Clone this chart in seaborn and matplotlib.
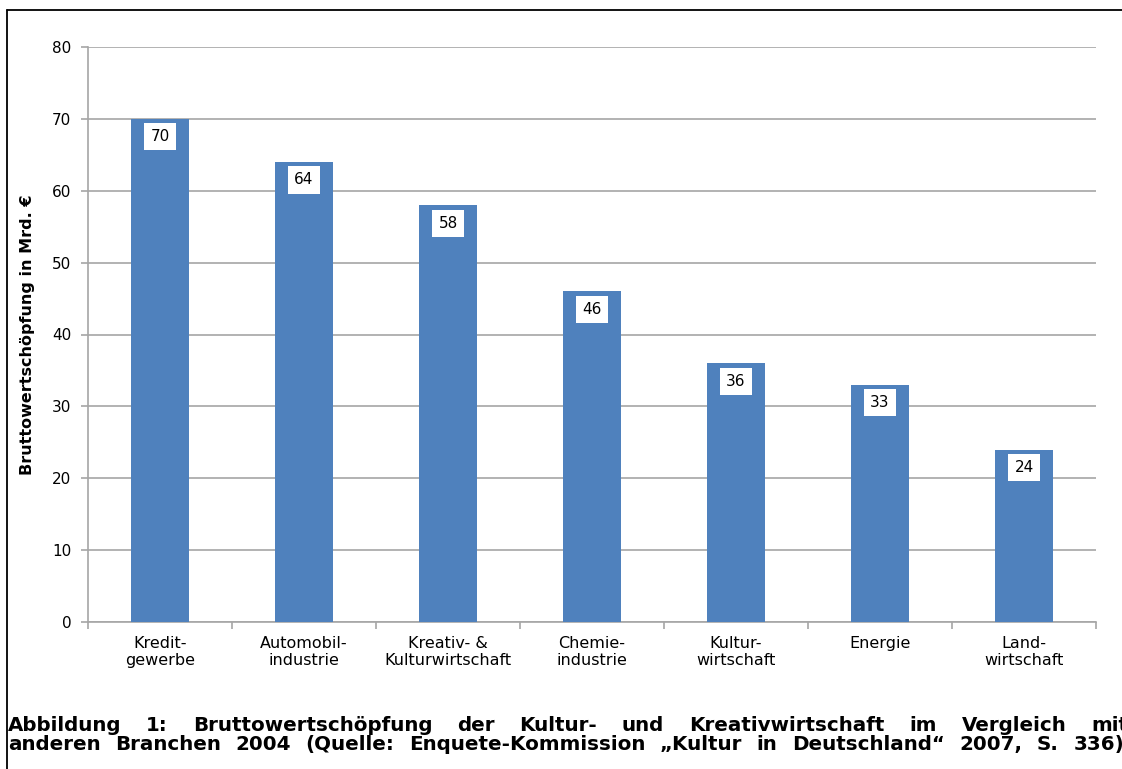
import matplotlib
matplotlib.use("Agg")
import matplotlib.pyplot as plt
from matplotlib.lines import Line2D
import seaborn as sns
import pandas as pd

categories = ["Kredit-\ngewerbe", "Automobil-\nindustrie", "Kreativ- &\nKulturwirtschaft",
              "Chemie-\nindustrie", "Kultur-\nwirtschaft", "Energie", "Land-\nwirtschaft"]
values = [70, 64, 58, 46, 36, 33, 24]
y_ticks = [0, 10, 20, 30, 40, 50, 60, 70, 80]
y_label = "Bruttowertschöpfung in Mrd. €"
caption_line1 = "Abbildung 1: Bruttowertschöpfung der Kultur- und Kreativwirtschaft im Vergleich mit"
caption_line2 = "anderen Branchen 2004 (Quelle: Enquete-Kommission „Kultur in Deutschland“ 2007, S. 336)"

sns.set_theme(style="white")
plt.rcParams["font.family"] = ["DejaVu Sans"]

W, H = 1122, 769
fig = plt.figure(figsize=(W / 100, H / 100), dpi=100)
ax = fig.add_axes([88 / W, 1 - 622 / H, (1096 - 88) / W, (622 - 47) / H])

df = pd.DataFrame({"Branche": categories, "Wert": values})
sns.barplot(data=df, x="Branche", y="Wert", color="#4f81bd", saturation=1,
            width=0.4, linewidth=0, ax=ax, zorder=3)

ax.set_ylim(0, 80)
ax.set_xlim(-0.5, len(categories) - 0.5)
ax.set_yticks(y_ticks)
ax.yaxis.grid(True, color="#a6a6a6", linewidth=1.2, zorder=0)
ax.set_axisbelow(True)

for side in ["top", "right"]:
    ax.spines[side].set_visible(False)
for side in ["left", "bottom"]:
    ax.spines[side].set_color("#a6a6a6")
    ax.spines[side].set_linewidth(1.2)

ax.tick_params(axis="y", which="major", length=5, width=1.2, color="#a6a6a6",
               left=True, labelsize=11, pad=7, labelcolor="black")
ax.set_xticks(range(len(categories)))
ax.set_xticks([i - 0.5 for i in range(len(categories) + 1)], minor=True)
ax.tick_params(axis="x", which="major", length=0, labelsize=11.5, pad=10,
               labelcolor="black")
ax.tick_params(axis="x", which="minor", length=5, width=1.2, color="#a6a6a6",
               bottom=True)
for lbl in ax.get_xticklabels():
    lbl.set_multialignment("center")
    lbl.set_linespacing(1.15)

ax.set_xlabel("")
ax.set_ylabel(y_label, fontsize=11.5, fontweight="bold", color="black", labelpad=12)

# value labels in white boxes just below each bar top
for i, v in enumerate(values):
    ax.annotate(str(v), xy=(i, v), xytext=(0, -18), textcoords="offset pixels",
                ha="center", va="center", fontsize=11, color="black", zorder=5,
                bbox=dict(boxstyle="square,pad=0.4", facecolor="white",
                          edgecolor="none"))

# frame lines around the figure block
fig.add_artist(Line2D([7 / W, 1], [1 - 10 / H, 1 - 10 / H], color="black",
                      linewidth=1.3, transform=fig.transFigure))
fig.add_artist(Line2D([7 / W, 7 / W], [0, 1 - 10 / H], color="black",
                      linewidth=1.3, transform=fig.transFigure))

# caption: both lines justified word by word to a common width
cap_kw = dict(fontsize=14.3, fontweight="bold", color="black", va="baseline",
              transform=fig.transFigure)
fig.canvas.draw()
renderer = fig.canvas.get_renderer()


def justified(line, left, right, baseline):
    words = line.split(" ")
    tmp = [fig.text(0, 0, w, **cap_kw) for w in words]
    widths = [t.get_window_extent(renderer).width for t in tmp]
    for t in tmp:
        t.remove()
    gap = (right - left - sum(widths)) / (len(words) - 1)
    x = left
    for w, wd in zip(words, widths):
        fig.text(x / W, 1 - baseline / H, w, ha="left", **cap_kw)
        x += wd + gap


justified(caption_line1, 8, 1128, 731)
justified(caption_line2, 8, 1124, 750)

fig.savefig("out.png", dpi=100)
